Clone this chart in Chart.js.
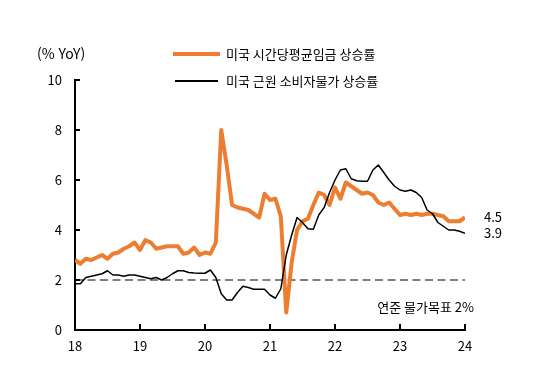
<!DOCTYPE html>
<html lang="ko">
<head>
<meta charset="utf-8">
<title>미국 임금 vs 근원 물가</title>
<script src="https://cdn.jsdelivr.net/npm/chart.js@4.4.1/dist/chart.umd.min.js"></script>
<style>
  html, body { margin: 0; padding: 0; background: #fff; }
  #chart { display: block; }
</style>
</head>
<body>
<canvas id="chart" width="537" height="370"></canvas>
<script>
// monthly, Jan 2018 .. Jan 2024 (index 0 = 2018-01)
const yearLabels = ["18", "19", "20", "21", "22", "23", "24"];
const yTicks = [0, 2, 4, 6, 8, 10];

const wageLabel = "미국 시간당평균임금 상승률";
const coreLabel = "미국 근원 소비자물가 상승률";
const targetLabel = "연준 물가목표 2%";
const yTitle = "(% YoY)";

const wageGrowth = [
  2.8, 2.65, 2.85, 2.8, 2.9, 3.0, 2.85, 3.05, 3.1, 3.25, 3.35, 3.5,
  3.2, 3.6, 3.5, 3.25, 3.3, 3.35, 3.35, 3.35, 3.05, 3.1, 3.3, 3.0,
  3.1, 3.05, 3.5, 8.0, 6.6, 5.0, 4.9, 4.85, 4.8, 4.65, 4.5, 5.45,
  5.2, 5.25, 4.55, 0.7, 2.7, 4.0, 4.35, 4.45, 5.0, 5.5, 5.4, 5.0,
  5.7, 5.25, 5.9, 5.75, 5.6, 5.45, 5.5, 5.4, 5.1, 5.0, 5.1, 4.85,
  4.6, 4.65, 4.6, 4.65, 4.6, 4.65, 4.65, 4.6, 4.55, 4.35, 4.35, 4.35,
  4.5
];

const coreCpi = [
  1.85, 1.85, 2.1, 2.15, 2.2, 2.25, 2.37, 2.2, 2.2, 2.15, 2.2, 2.2,
  2.15, 2.1, 2.05, 2.1, 2.0, 2.1, 2.25, 2.37, 2.37, 2.3, 2.28, 2.27,
  2.27, 2.4, 2.1, 1.45, 1.2, 1.2, 1.5, 1.75, 1.7, 1.63, 1.63, 1.63,
  1.4, 1.27, 1.65, 3.0, 3.8, 4.5, 4.3, 4.05, 4.03, 4.6, 4.9, 5.5,
  6.0, 6.4, 6.45, 6.05, 5.97, 5.95, 5.95, 6.4, 6.6, 6.3, 6.0, 5.75,
  5.6, 5.55, 5.6, 5.5, 5.3, 4.8, 4.65, 4.3, 4.15, 4.0, 4.0, 3.95,
  3.87
];

const fedTarget = 2;

document.addEventListener("DOMContentLoaded", () => {
  const FONT = "'Noto Sans CJK KR', 'Noto Sans', sans-serif";
  const ORANGE = "#ED7D31";

  const toPoints = (arr) => arr.map((v, i) => ({ x: i, y: v }));
  const lastIdx = wageGrowth.length - 1;

  // inward tick marks, end labels, legend and notes
  const decorations = {
    id: "decorations",
    afterDraw(chart) {
      const { ctx, chartArea, scales } = chart;
      const xs = scales.x, ys = scales.y;
      ctx.save();

      // tick marks (pointing into the plot)
      ctx.strokeStyle = "#000";
      ctx.lineWidth = 2;
      ctx.beginPath();
      yTicks.forEach((v) => {
        const py = Math.round(ys.getPixelForValue(v));
        ctx.moveTo(chartArea.left, py);
        ctx.lineTo(chartArea.left + 5, py);
      });
      yearLabels.forEach((_, i) => {
        const px = Math.round(xs.getPixelForValue(i * 12));
        ctx.moveTo(px, chartArea.bottom);
        ctx.lineTo(px, chartArea.bottom - 6);
      });
      ctx.stroke();

      ctx.fillStyle = "#000";
      ctx.font = "13px " + FONT;
      ctx.textBaseline = "middle";

      // y title
      ctx.textAlign = "left";
      ctx.font = "14px " + FONT;
      ctx.fillText(yTitle, 37, 54);
      ctx.font = "13px " + FONT;

      // legend
      ctx.strokeStyle = ORANGE;
      ctx.lineWidth = 4;
      ctx.beginPath();
      ctx.moveTo(173, 54);
      ctx.lineTo(220, 54);
      ctx.stroke();
      ctx.strokeStyle = "#000";
      ctx.lineWidth = 2;
      ctx.beginPath();
      ctx.moveTo(175, 81);
      ctx.lineTo(218, 81);
      ctx.stroke();
      ctx.fillText(wageLabel, 226, 54);
      ctx.fillText(coreLabel, 226, 81);

      // end-of-series values
      const endX = xs.getPixelForValue(lastIdx) + 19;
      ctx.fillText(wageGrowth[lastIdx].toFixed(1), endX, ys.getPixelForValue(wageGrowth[lastIdx]));
      ctx.fillText(coreCpi[lastIdx].toFixed(1), endX, ys.getPixelForValue(coreCpi[lastIdx]));

      // target note
      ctx.textAlign = "right";
      ctx.fillText(targetLabel, 474, ys.getPixelForValue(fedTarget) + 27);

      ctx.restore();
    }
  };

  new Chart(document.getElementById("chart"), {
    type: "line",
    data: {
      datasets: [
        {
          label: coreLabel,
          data: toPoints(coreCpi),
          borderColor: "#000",
          borderWidth: 1.5,
          order: 0
        },
        {
          label: wageLabel,
          data: toPoints(wageGrowth),
          borderColor: ORANGE,
          borderWidth: 4,
          order: 1
        },
        {
          label: targetLabel,
          data: toPoints(wageGrowth.map(() => fedTarget)),
          borderColor: "#808080",
          borderWidth: 2,
          borderDash: [8, 4.5],
          order: 2
        }
      ]
    },
    options: {
      responsive: false,
      animation: false,
      events: [],
      elements: {
        point: { radius: 0 },
        line: { tension: 0, borderJoinStyle: "round", borderCapStyle: "butt" }
      },
      layout: { padding: { left: 0, right: 72, top: 80, bottom: 0 } },
      plugins: {
        legend: { display: false },
        tooltip: { enabled: false }
      },
      scales: {
        x: {
          type: "linear",
          min: 0,
          max: lastIdx,
          afterFit: (scale) => { scale.height = 40; },
          afterBuildTicks: (scale) => {
            scale.ticks = yearLabels.map((_, i) => ({ value: i * 12 }));
          },
          ticks: {
            autoSkip: false,
            maxRotation: 0,
            padding: 8,
            color: "#000",
            font: { family: FONT, size: 13 },
            callback: (value) => yearLabels[value / 12]
          },
          grid: { display: false, drawTicks: false },
          border: { display: true, color: "#000", width: 2 }
        },
        y: {
          min: 0,
          max: 10,
          afterFit: (scale) => { scale.width = 75; },
          afterBuildTicks: (scale) => {
            scale.ticks = yTicks.map((v) => ({ value: v }));
          },
          ticks: {
            padding: 13,
            color: "#000",
            font: { family: FONT, size: 13 }
          },
          grid: { display: false, drawTicks: false },
          border: { display: true, color: "#000", width: 2 }
        }
      }
    },
    plugins: [decorations]
  });
});
</script>
</body>
</html>
